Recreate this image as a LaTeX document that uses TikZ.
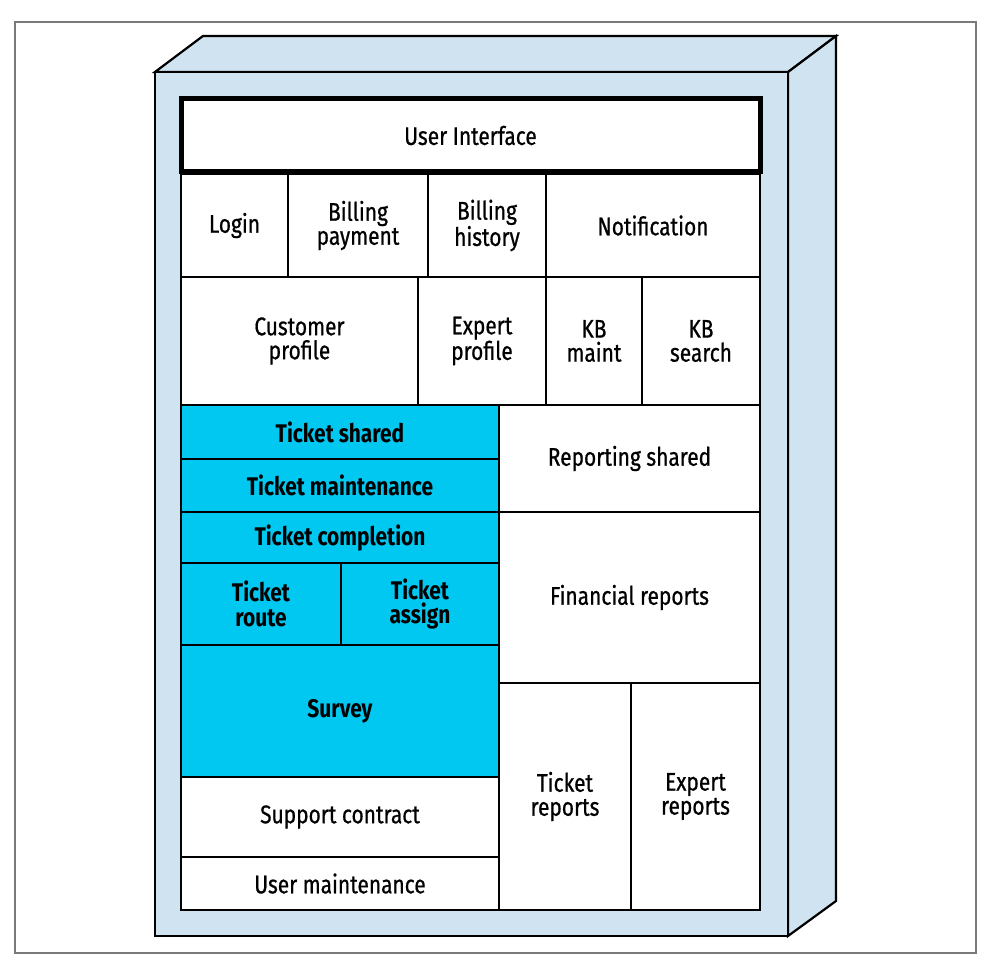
\documentclass[tikz,border=0pt]{standalone}
\usepackage{fontspec}
\setmainfont{Fira Sans}[FakeStretch=0.82, UprightFeatures={FakeBold=0.7}]
\definecolor{boxblue}{HTML}{CFE3F1}
\definecolor{tcyan}{HTML}{00C8F0}
\definecolor{framegray}{HTML}{7A7A7A}
\tikzset{
  face/.style={fill=boxblue, draw=black, line width=2.2pt, line join=miter},
  cellbox/.style={draw=black, line width=2.2pt, fill=white, inner sep=0pt, align=center,
    font=\fontsize{25.5}{24}\selectfont},
  cyancell/.style={cellbox, fill=tcyan, font=\fontsize{25.5}{24.5}\selectfont\bfseries},
  uibox/.style={cellbox, line width=5pt}
}
\newcommand{\cellat}[7][cellbox]{%
  \node[#1, minimum width=#5-#3, minimum height=#6-#4] (#2) at ({(#3+#5)/2},{(#4+#6)/2}) {#7};}
\begin{document}
\begin{tikzpicture}[x=1pt,y=-1pt]
\useasboundingbox (0,0) rectangle (990,960);
\draw[framegray, line width=1.2pt] (15,22) rectangle (976,953);
% cabinet
\draw[face] (155,72) -- (203,36) -- (836,36) -- (788,72) -- cycle;
\draw[face] (788,72) -- (836,36) -- (836,901) -- (788,936) -- cycle;
\draw[face] (155,72) rectangle (788,936);
% top
\cellat[uibox]{ui}{181}{99}{760}{172}{User Interface}
\cellat{login}{181}{174}{288}{277}{Login}
\cellat{bpay}{288}{174}{428}{277}{Billing\\payment}
\cellat{bhist}{428}{174}{546}{277}{Billing\\history}
\cellat{notif}{546}{174}{760}{277}{Notification}
\cellat{cprof}{181}{277}{418}{405}{Customer\\profile}
\cellat{eprof}{418}{277}{546}{405}{Expert\\profile}
\cellat{kbm}{546}{277}{642}{405}{KB\\maint}
\cellat{kbs}{642}{277}{760}{405}{KB\\search}
% left column
\cellat[cyancell]{tshared}{181}{405}{499}{459}{Ticket shared}
\cellat[cyancell]{tmaint}{181}{459}{499}{512}{Ticket maintenance}
\cellat[cyancell]{tcomp}{181}{512}{499}{563}{Ticket completion}
\cellat[cyancell]{troute}{181}{563}{341}{645}{Ticket\\route}
\cellat[cyancell]{tassign}{341}{563}{499}{645}{Ticket\\assign}
\cellat[cyancell]{survey}{181}{645}{499}{777}{Survey}
\cellat{support}{181}{777}{499}{857}{Support contract}
\cellat{umaint}{181}{857}{499}{910}{User maintenance}
% right column
\cellat{rshared}{499}{405}{760}{512}{Reporting shared}
\cellat{fin}{499}{512}{760}{683}{Financial reports}
\cellat{trep}{499}{683}{631}{910}{Ticket\\reports}
\cellat{erep}{631}{683}{760}{910}{Expert\\reports}
\end{tikzpicture}
\end{document}
